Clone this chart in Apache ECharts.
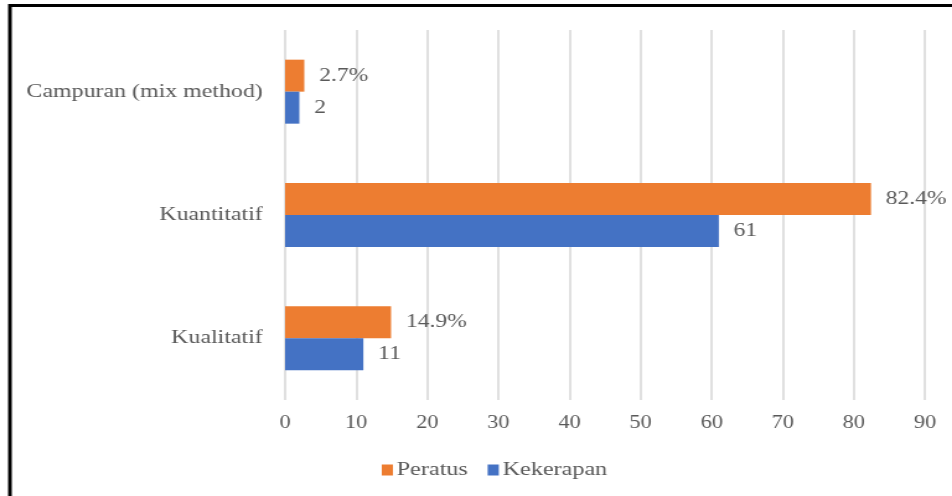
<!DOCTYPE html>
<html>
<head>
<meta charset="utf-8">
<script src="https://cdn.jsdelivr.net/npm/echarts@6/dist/echarts.min.js"></script>
<style>
html,body{margin:0;padding:0;background:#fff;overflow:hidden;}
#wrap{width:952px;height:496px;overflow:hidden;position:relative;}
#chart{width:768px;height:496px;transform:scaleX(1.2396);transform-origin:0 0;}
</style>
</head>
<body>
<div id="wrap"><div id="chart"></div></div>
<script>
const categories = ['Kualitatif', 'Kuantitatif', 'Campuran (mix method)'];
const peratus = [14.9, 82.4, 2.7];
const kekerapan = [11, 61, 2];
const xTicks = { min: 0, max: 90, interval: 10 };
const seriesNames = ['Peratus', 'Kekerapan'];

const FONT = '"Liberation Serif", "Times New Roman", serif';
const TXT = '#595959';

const chart = echarts.init(document.getElementById('chart'));
chart.setOption({
  animation: false,
  backgroundColor: '#ffffff',
  grid: { left: 230, right: 21.8, top: 30, bottom: 96, containLabel: false },
  legend: {
    data: seriesNames,
    left: 303, top: 455,
    icon: 'rect', itemWidth: 9, itemHeight: 11, itemGap: 16,
    textStyle: { fontFamily: FONT, fontSize: 19.5, color: TXT, padding: [0, 0, 0, -2] }
  },
  xAxis: {
    type: 'value', min: xTicks.min, max: xTicks.max, interval: xTicks.interval,
    axisLine: { show: false }, axisTick: { show: false },
    splitLine: { show: true, lineStyle: { color: '#d9d9d9', width: 1.6 } },
    axisLabel: { fontFamily: FONT, fontSize: 18, color: TXT, margin: 14 }
  },
  yAxis: {
    type: 'category', data: categories,
    axisLine: { show: false }, axisTick: { show: false },
    axisLabel: { fontFamily: FONT, fontSize: 19.3, color: TXT, margin: 18 }
  },
  series: [
    {
      name: seriesNames[0], type: 'bar', data: peratus,
      barWidth: 32, barGap: '0%',
      itemStyle: { color: '#ED7D31' },
      label: { show: true, position: 'right', distance: 12, formatter: '{c}%',
        fontFamily: FONT, fontSize: 19, color: TXT }
    },
    {
      name: seriesNames[1], type: 'bar', data: kekerapan,
      barWidth: 32, barGap: '0%',
      itemStyle: { color: '#4472C4' },
      label: { show: true, position: 'right', distance: 12,
        fontFamily: FONT, fontSize: 19, color: TXT }
    }
  ],
  graphic: [{
    type: 'rect', silent: true,
    shape: { x: 8, y: 5.5, width: 800, height: 600 },
    style: { fill: 'none', stroke: '#000', lineWidth: 3 }
  }]
});
</script>
</body>
</html>
